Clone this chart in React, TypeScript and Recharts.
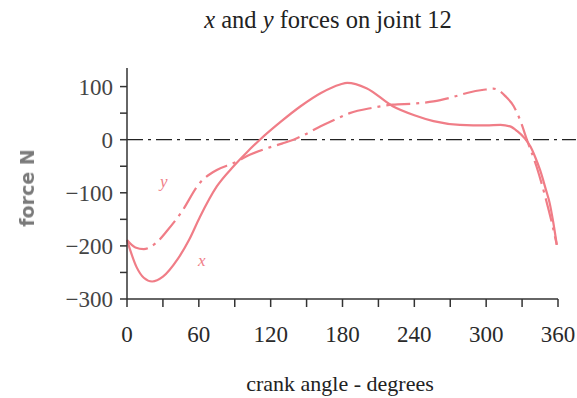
import { LineChart, Line, XAxis, YAxis, ReferenceLine } from "recharts";

// crank angle (degrees) and force (N)
const xAngles = [0, 8, 14, 21, 30, 42, 52, 61, 75, 89, 100, 111, 128, 145, 162, 178, 184, 200, 222, 240, 256, 278, 300, 312, 320, 326, 332, 337, 341, 345, 350, 353, 356, 359];
const xForce = [-189, -240, -260, -267, -258, -226, -188, -145, -88, -50, -24, 0, 33, 63, 88, 104, 107, 97, 63, 46, 35, 28, 27, 28, 25, 16, 3, -13, -33, -57, -95, -119, -155, -198];

const yAngles = [0, 7, 14, 24, 34, 45, 61, 75, 89, 103, 117, 130, 139, 148, 159, 172, 186, 205, 222, 240, 256, 270, 284, 298, 306, 311, 316, 323, 329, 334, 342, 350, 355, 359];
const yForce = [-189, -203, -206, -195, -170, -138, -81, -57, -44, -28, -16, -7, 0, 9, 22, 36, 50, 60, 66, 68, 72, 79, 88, 94, 96, 92, 82, 63, 33, 0, -50, -113, -158, -198];

const xTicks = [0, 30, 60, 90, 120, 150, 180, 210, 240, 270, 300, 330, 360];
const yTicks = [-300, -250, -200, -150, -100, -50, 0, 50, 100];

const xData = xAngles.map((a, i) => ({ angle: a, force: xForce[i] }));
const yData = yAngles.map((a, i) => ({ angle: a, force: yForce[i] }));

const PINK = "#f07d87";
const INK = "#333";
const serif = "'Liberation Serif', 'DejaVu Serif', serif";

export default function App() {
  return (
    <div style={{ position: "absolute", left: 0, top: 0, width: 577, height: 398, background: "#fff", fontFamily: serif }}>
      <LineChart width={577} height={398} margin={{ top: 68, right: 19, bottom: 69, left: 0 }}>
        <XAxis
          type="number"
          dataKey="angle"
          domain={[0, 360]}
          ticks={xTicks}
          interval={0}
          allowDuplicatedCategory={false}
          height={30}
          stroke={INK}
          strokeWidth={1.5}
          tickSize={8}
          tickMargin={19}
          tick={{ fill: "#2a2a2a", fontSize: 23, fontFamily: serif }}
          tickFormatter={(v: number) => (v % 60 === 0 ? String(v) : "")}
        />
        <YAxis
          type="number"
          domain={[-300, 135]}
          ticks={yTicks}
          interval={0}
          width={127}
          stroke={INK}
          strokeWidth={1.5}
          tickSize={7}
          tickMargin={7}
          tick={{ fill: "#444", fontSize: 23, fontFamily: serif }}
          tickFormatter={(v: number) => (v % 100 === 0 ? String(v).replace("-", "\u2212") : "")}
        />
        <ReferenceLine
          ifOverflow="visible"
          segment={[{ x: 0, y: 0 }, { x: 375, y: 0 }]}
          stroke="#222"
          strokeWidth={1.3}
          strokeDasharray="16 5 3 5"
        />
        <Line
          data={xData}
          dataKey="force"
          type="monotone"
          stroke={PINK}
          strokeWidth={2.2}
          dot={false}
          isAnimationActive={false}
        />
        <Line
          data={yData}
          dataKey="force"
          type="monotone"
          stroke={PINK}
          strokeWidth={2.2}
          strokeDasharray="24 6 3 6"
          dot={false}
          isAnimationActive={false}
        />
      </LineChart>

      <div style={{ position: "absolute", left: 178, width: 300, top: 6, textAlign: "center", fontSize: 24.5, color: "#222", whiteSpace: "nowrap" }}>
        <i>x</i> and <i>y</i> forces on joint 12
      </div>
      <div style={{ position: "absolute", left: 190, width: 300, top: 371, textAlign: "center", fontSize: 22, color: "#222", whiteSpace: "nowrap" }}>
        crank angle - degrees
      </div>
      <div style={{ position: "absolute", left: 27, top: 188, transform: "translate(-50%, -50%) rotate(-90deg)", fontSize: 19, fontWeight: "bold", color: "#7a7a7a", fontFamily: "'DejaVu Sans', sans-serif", whiteSpace: "nowrap", filter: "blur(0.7px)" }}>
        force N
      </div>
      <div style={{ position: "absolute", left: 160, top: 172, fontSize: 17, fontStyle: "italic", color: PINK }}>y</div>
      <div style={{ position: "absolute", left: 198, top: 251, fontSize: 17, fontStyle: "italic", color: PINK }}>x</div>
    </div>
  );
}
